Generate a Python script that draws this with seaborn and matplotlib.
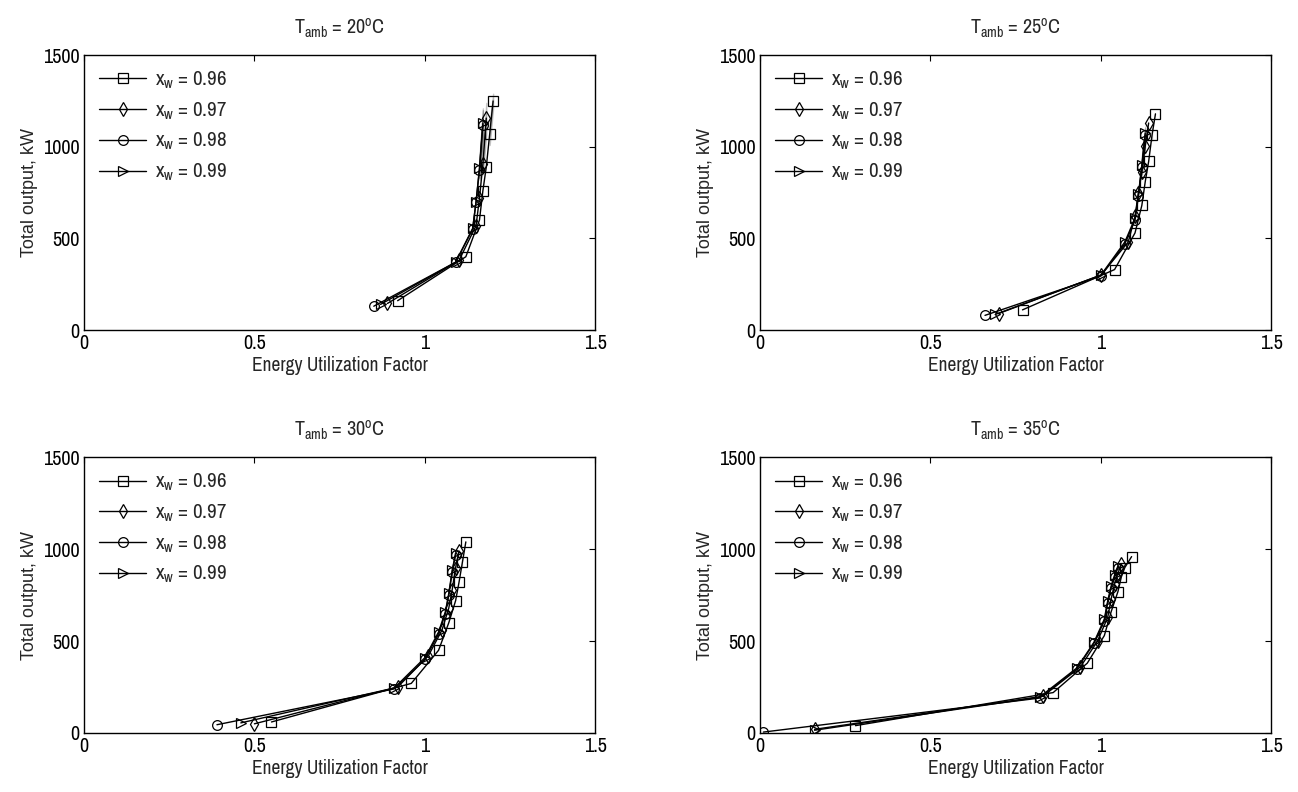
import pandas as pd
import matplotlib
matplotlib.use("Agg")
import matplotlib.pyplot as plt
import seaborn as sns

# -------------------------------
# Data
# -------------------------------
temps = [20, 25, 30, 35]
xw_labels = ["0.96", "0.97", "0.98", "0.99"]
markers = ["s", "d", "o", ">"]

# T_amb = 20 C
euf_20_096 = [0.92, 1.12, 1.16, 1.17, 1.18, 1.19, 1.19, 1.20, 1.20]
out_20_096 = [160, 400, 600, 760, 890, 1010, 1130, 1210, 1290]
euf_20_097 = [0.89, 1.10, 1.15, 1.16, 1.17, 1.17, 1.18, 1.18, 1.18]
out_20_097 = [145, 380, 570, 720, 850, 960, 1070, 1160, 1240]
euf_20_098 = [0.85, 1.09, 1.14, 1.15, 1.16, 1.16, 1.17, 1.17, 1.17]
out_20_098 = [130, 370, 550, 700, 820, 930, 1040, 1120, 1200]
euf_20_099 = [0.87, 1.09, 1.14, 1.15, 1.16, 1.16, 1.17, 1.17, 1.17]
out_20_099 = [140, 370, 555, 700, 830, 940, 1050, 1130, 1210]

# T_amb = 25 C
euf_25_096 = [0.77, 1.04, 1.10, 1.12, 1.13, 1.14, 1.15, 1.15, 1.16]
out_25_096 = [110, 330, 530, 680, 810, 920, 1030, 1100, 1180]
euf_25_097 = [0.70, 1.00, 1.08, 1.10, 1.11, 1.12, 1.13, 1.13, 1.14]
out_25_097 = [90, 300, 480, 620, 750, 860, 960, 1050, 1130]
euf_25_098 = [0.66, 1.00, 1.07, 1.10, 1.11, 1.12, 1.12, 1.13, 1.13]
out_25_098 = [80, 295, 470, 600, 730, 840, 940, 1030, 1100]
euf_25_099 = [0.69, 1.00, 1.07, 1.10, 1.11, 1.12, 1.12, 1.13, 1.13]
out_25_099 = [85, 300, 480, 610, 740, 850, 950, 1040, 1110]

# T_amb = 30 C
euf_30_096 = [0.55, 0.96, 1.04, 1.07, 1.09, 1.10, 1.11, 1.11, 1.12]
out_30_096 = [60, 270, 450, 600, 720, 820, 900, 960, 1040]
euf_30_097 = [0.50, 0.92, 1.01, 1.05, 1.07, 1.08, 1.09, 1.09, 1.10]
out_30_097 = [50, 250, 420, 560, 680, 780, 870, 930, 990]
euf_30_098 = [0.39, 0.91, 1.00, 1.04, 1.06, 1.07, 1.08, 1.08, 1.09]
out_30_098 = [45, 240, 400, 540, 650, 750, 840, 910, 970]
euf_30_099 = [0.46, 0.91, 1.00, 1.04, 1.06, 1.07, 1.08, 1.08, 1.09]
out_30_099 = [55, 245, 410, 550, 660, 760, 850, 920, 980]

# T_amb = 35 C
euf_35_096 = [0.28, 0.86, 0.96, 1.01, 1.03, 1.05, 1.06, 1.07, 1.09]
out_35_096 = [40, 220, 380, 530, 660, 770, 850, 900, 960]
euf_35_097 = [0.16, 0.83, 0.94, 0.99, 1.02, 1.03, 1.04, 1.05, 1.06]
out_35_097 = [20, 200, 360, 500, 630, 730, 810, 870, 920]
euf_35_098 = [0.01, 0.82, 0.93, 0.98, 1.01, 1.02, 1.03, 1.04, 1.05]
out_35_098 = [5, 190, 350, 490, 610, 710, 790, 850, 900]
euf_35_099 = [0.16, 0.82, 0.93, 0.98, 1.01, 1.02, 1.03, 1.04, 1.05]
out_35_099 = [15, 195, 355, 495, 620, 720, 800, 860, 910]

series = {
    20: [(euf_20_096, out_20_096), (euf_20_097, out_20_097), (euf_20_098, out_20_098), (euf_20_099, out_20_099)],
    25: [(euf_25_096, out_25_096), (euf_25_097, out_25_097), (euf_25_098, out_25_098), (euf_25_099, out_25_099)],
    30: [(euf_30_096, out_30_096), (euf_30_097, out_30_097), (euf_30_098, out_30_098), (euf_30_099, out_30_099)],
    35: [(euf_35_096, out_35_096), (euf_35_097, out_35_097), (euf_35_098, out_35_098), (euf_35_099, out_35_099)],
}

# -------------------------------
# Style
# -------------------------------
sns.set_style("white")
narrow = ['Archivo Narrow', 'DejaVu Sans']
plt.rcParams['font.family'] = narrow
plt.rcParams['mathtext.fontset'] = 'custom'
plt.rcParams['mathtext.rm'] = 'Archivo Narrow'
plt.rcParams['mathtext.it'] = 'Archivo Narrow'
plt.rcParams['mathtext.default'] = 'regular'

fig = plt.figure(figsize=(12.98, 7.92), dpi=100)
positions = [
    [0.0647, 0.5833, 0.394, 0.347],
    [0.5855, 0.5833, 0.394, 0.347],
    [0.0647, 0.0745, 0.394, 0.348],
    [0.5855, 0.0745, 0.394, 0.348],
]

for pos, t in zip(positions, temps):
    ax = fig.add_axes(pos)
    for (x, y), lab, m in zip(series[t], xw_labels, markers):
        df = pd.DataFrame({"euf": x, "out": y})
        sns.lineplot(data=df, x="euf", y="out", ax=ax, sort=False,
                     color="black", lw=1, marker=m, markersize=7,
                     markerfacecolor="none", markeredgecolor="black",
                     markeredgewidth=0.9, label="x$_{w}$ = " + lab)
    ax.set_xlim(0, 1.5)
    ax.set_ylim(0, 1500)
    ax.set_xticks([0, 0.5, 1, 1.5])
    ax.set_xticklabels(["0", "0.5", "1", "1.5"])
    ax.set_yticks([0, 500, 1000, 1500])
    ax.tick_params(direction="in", top=True, right=True, length=4,
                   labelsize=14.5, colors="black", pad=3)
    for s in ax.spines.values():
        s.set_color("black")
        s.set_linewidth(1)
    ax.set_xlabel("Energy Utilization Factor", fontsize=14, labelpad=2)
    ax.set_ylabel("Total output, kW", fontsize=13, family=['Liberation Sans', 'DejaVu Sans'],
                  labelpad=4)
    ax.set_title("T$_{amb}$ = %d$^{o}$C" % t, fontsize=14.5, pad=15)
    ax.legend(loc="upper left", frameon=False, fontsize=15,
              handlelength=2.3, handletextpad=0.4, labelspacing=0.45,
              borderaxespad=0.3)

fig.savefig("out.png", dpi=100)
